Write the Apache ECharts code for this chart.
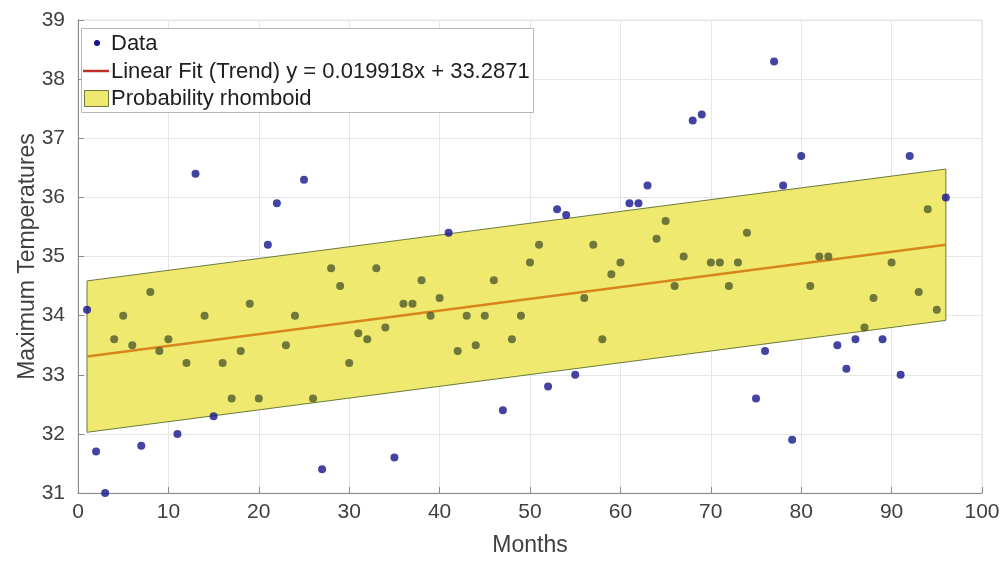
<!DOCTYPE html>
<html>
<head>
<meta charset="utf-8">
<script src="https://cdn.jsdelivr.net/npm/echarts@6/dist/echarts.min.js"></script>
<style>
  html, body { margin: 0; padding: 0; background: #fff; }
  #chart { width: 1008px; height: 562px; }
</style>
</head>
<body>
<div id="chart"></div>
<script>
// monthly maximum temperatures
var months = [];
for (var m = 1; m <= 96; m++) months.push(m);
var maxTemps = [
  34.1, 31.7, 31.0, 33.6, 34.0, 33.5, 31.8, 34.4, 33.4, 33.6,
  32.0, 33.2, 36.4, 34.0, 32.3, 33.2, 32.6, 33.4, 34.2, 32.6,
  35.2, 35.9, 33.5, 34.0, 36.3, 32.6, 31.4, 34.8, 34.5, 33.2,
  33.7, 33.6, 34.8, 33.8, 31.6, 34.2, 34.2, 34.6, 34.0, 34.3,
  35.4, 33.4, 34.0, 33.5, 34.0, 34.6, 32.4, 33.6, 34.0, 34.9,
  35.2, 32.8, 35.8, 35.7, 33.0, 34.3, 35.2, 33.6, 34.7, 34.9,
  35.9, 35.9, 36.2, 35.3, 35.6, 34.5, 35.0, 37.3, 37.4, 34.9,
  34.9, 34.5, 34.9, 35.4, 32.6, 33.4, 38.3, 36.2, 31.9, 36.7,
  34.5, 35.0, 35.0, 33.5, 33.1, 33.6, 33.8, 34.3, 33.6, 34.9,
  33.0, 36.7, 34.4, 35.8, 34.1, 36.0
];

// linear fit and half width of the rhomboid
var fitSlope = 0.019918;
var fitIntercept = 33.2871;
var bandHalf = 1.28;

var fitName = 'Linear Fit (Trend) y = ' + fitSlope + 'x + ' + fitIntercept;
var legendNames = ['Data', fitName, 'Probability rhomboid'];

function fitAt(x) {
  return fitSlope * x + fitIntercept;
}

var x0 = months[0];
var x1 = months[months.length - 1];
var fitLine = [[x0, fitAt(x0)], [x1, fitAt(x1)]];
var bandPoly = [
  [x0, fitAt(x0) + bandHalf],
  [x1, fitAt(x1) + bandHalf],
  [x1, fitAt(x1) - bandHalf],
  [x0, fitAt(x0) - bandHalf]
];

var scatterData = months.map(function (x, i) {
  return [x, maxTemps[i]];
});

var navy = '#14148c';
var olive = '#4f5a2c';
var bandFill = '#efe970';
var bandEdge = '#6b7a3a';
var fitColor = '#d6861c';

var chart = echarts.init(document.getElementById('chart'));

var axisText = { color: '#404040', fontSize: 21, fontFamily: 'Liberation Sans' };
var legendText = { fill: '#202020', fontSize: 22, fontFamily: 'Liberation Sans', verticalAlign: 'middle' };

// legend drawn by hand, matlab style (small dot, short line, patch)
var legendGraphic = [
  { type: 'rect', shape: { x: 81.5, y: 28.5, width: 452, height: 84 },
    style: { fill: '#fff', stroke: '#b8b8b8', lineWidth: 1 }, z: 10 },
  { type: 'circle', shape: { cx: 97, cy: 43, r: 3 }, style: { fill: navy }, z: 11 },
  { type: 'line', shape: { x1: 83, y1: 71, x2: 109, y2: 71 }, style: { stroke: '#c0302a', lineWidth: 2.5 }, z: 11 },
  { type: 'rect', shape: { x: 84.5, y: 90.5, width: 24, height: 16 },
    style: { fill: bandFill, stroke: bandEdge, lineWidth: 1 }, z: 11 },
  { type: 'text', x: 111, y: 44, style: Object.assign({ text: legendNames[0] }, legendText), z: 11 },
  { type: 'text', x: 111, y: 72, style: Object.assign({ text: legendNames[1] }, legendText), z: 11 },
  { type: 'text', x: 111, y: 99, style: Object.assign({ text: legendNames[2] }, legendText), z: 11 }
];

chart.setOption({
  animation: false,
  textStyle: { fontFamily: 'Liberation Sans' },
  grid: { left: 78, right: 26, top: 20, bottom: 67, show: true, borderColor: '#e2e2e2', borderWidth: 1 },
  graphic: legendGraphic,
  xAxis: {
    type: 'value',
    min: 0,
    max: 100,
    interval: 10,
    name: 'Months',
    nameLocation: 'middle',
    nameGap: 41,
    nameMoveOverlap: false,
    nameTextStyle: { color: '#404040', fontSize: 23 },
    axisLine: { show: true, lineStyle: { color: '#8a8a8a' } },
    axisTick: { show: true, inside: true, length: 6, lineStyle: { color: '#8a8a8a' } },
    axisLabel: Object.assign({ margin: 9 }, axisText),
    splitLine: { show: true, lineStyle: { color: '#e6e6e6' } }
  },
  yAxis: {
    type: 'value',
    min: 31,
    max: 39,
    interval: 1,
    name: 'Maximum Temperatures',
    nameLocation: 'middle',
    nameGap: 39,
    nameMoveOverlap: false,
    nameTextStyle: { color: '#404040', fontSize: 23 },
    axisLine: { show: true, lineStyle: { color: '#8a8a8a' } },
    axisTick: { show: true, inside: true, length: 6, lineStyle: { color: '#8a8a8a' } },
    axisLabel: Object.assign({ margin: 13 }, axisText),
    splitLine: { show: true, lineStyle: { color: '#e6e6e6' } }
  },
  series: [
    {
      name: 'Probability rhomboid',
      type: 'custom',
      z: 1,
      data: [0],
      renderItem: function (params, api) {
        var pts = bandPoly.map(function (p) { return api.coord(p); });
        return {
          type: 'polygon',
          shape: { points: pts },
          style: { fill: bandFill, stroke: bandEdge, lineWidth: 1 }
        };
      }
    },
    {
      name: fitName,
      type: 'line',
      z: 2,
      data: fitLine,
      symbol: 'none',
      lineStyle: { color: fitColor, width: 2.5 }
    },
    {
      name: 'Data',
      type: 'scatter',
      z: 3,
      data: scatterData,
      symbolSize: 8,
      itemStyle: {
        // points under the yellow patch look olive in the original
        color: function (p) {
          var x = p.value[0], y = p.value[1];
          var inside = x > x0 && x < x1 && Math.abs(y - fitAt(x)) < bandHalf;
          return inside ? olive : navy;
        }
      }
    }
  ]
});
</script>
</body>
</html>
